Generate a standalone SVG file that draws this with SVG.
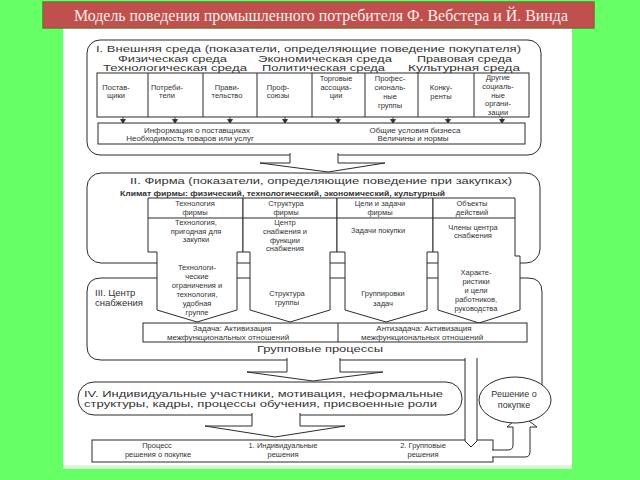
<svg xmlns="http://www.w3.org/2000/svg" width="640" height="480" viewBox="0 0 640 480">
<defs>
<style>
.ln{fill:none;stroke:#2b2b2b;stroke-width:1}
.wf{fill:#fff;stroke:#2b2b2b;stroke-width:1}
.t{font-family:"Liberation Sans",Arial,sans-serif;fill:#333}
.h{font-size:9.5px}
.s{font-size:7.5px;text-anchor:middle}
.m{font-size:8px;text-anchor:middle}
</style>
<path id="sa" d="M0,0 V3 M-2.5,2.5 H2.5 L0,6 Z" fill="#2b2b2b" stroke="#2b2b2b" stroke-width="0.8"/>
</defs>
<rect x="0" y="0" width="640" height="480" fill="#66ff66"/>
<rect x="63" y="28" width="509" height="438" fill="#fff"/>
<rect x="63" y="465" width="509" height="4" fill="#d6fbd6"/>

<g id="title">
<rect x="43" y="2" width="551" height="26" fill="#c0504d" stroke="#7d6a38" stroke-width="1.5"/>
<text x="321" y="21" font-family="'Liberation Serif','Times New Roman',serif" font-size="17" fill="#ffecec" text-anchor="middle" textLength="494" lengthAdjust="spacingAndGlyphs">Модель поведения промышленного потребителя Ф. Вебстера и Й. Винда</text>
</g>

<g id="sec1">
<rect class="wf" x="87" y="40" width="454" height="115" rx="13"/>
<text class="t h" x="96" y="51.5" textLength="425" lengthAdjust="spacingAndGlyphs">I. Внешняя среда (показатели, определяющие поведение покупателя)</text>
<text class="t h" x="118" y="61.5" textLength="109" lengthAdjust="spacingAndGlyphs">Физическая среда</text>
<text class="t h" x="258" y="61.5" textLength="134" lengthAdjust="spacingAndGlyphs">Экономическая среда</text>
<text class="t h" x="417" y="61.5" textLength="95" lengthAdjust="spacingAndGlyphs">Правовая среда</text>
<text class="t h" x="103" y="71" textLength="144" lengthAdjust="spacingAndGlyphs">Технологическая среда</text>
<text class="t h" x="262" y="71" textLength="123" lengthAdjust="spacingAndGlyphs">Политическая среда</text>
<text class="t h" x="408" y="71" textLength="112" lengthAdjust="spacingAndGlyphs">Культурная среда</text>
</g>

<g id="env-boxes">
<rect class="wf" x="97" y="73" width="432" height="44"/>
<path class="ln" d="M148,73V117M203,73V117M257,73V117M312,73V117M365,73V117M418,73V117M474,73V117"/>
<text class="t s"><tspan x="116" y="90">Постав-</tspan><tspan x="116" y="98">щики</tspan></text>
<text class="t s"><tspan x="167" y="90">Потреби-</tspan><tspan x="167" y="98">тели</tspan></text>
<text class="t s"><tspan x="227" y="90">Прави-</tspan><tspan x="227" y="98">тельство</tspan></text>
<text class="t s"><tspan x="278" y="90">Проф-</tspan><tspan x="278" y="98">союзы</tspan></text>
<text class="t s"><tspan x="336" y="81">Торговые</tspan><tspan x="336" y="90">ассоциа-</tspan><tspan x="336" y="98">ции</tspan></text>
<text class="t s"><tspan x="390" y="81">Профес-</tspan><tspan x="390" y="90">сиональ-</tspan><tspan x="390" y="99">ные</tspan><tspan x="390" y="108">группы</tspan></text>
<text class="t s"><tspan x="441" y="90">Конку-</tspan><tspan x="441" y="99">ренты</tspan></text>
<text class="t s"><tspan x="498" y="80">Другие</tspan><tspan x="498" y="89">социаль-</tspan><tspan x="498" y="98">ные</tspan><tspan x="498" y="106">органи-</tspan><tspan x="498" y="115">зации</tspan></text>
</g>

<g id="info">
<rect class="wf" x="98" y="123" width="427" height="21"/>
<text class="t m"><tspan x="197" y="132.5">Информация о поставщиках</tspan><tspan x="190" y="141">Необходимость товаров или услуг</tspan></text>
<text class="t m"><tspan x="415" y="132.5">Общие условия бизнеса</tspan><tspan x="413" y="141">Величины и нормы</tspan></text>
</g>

<g id="sec2">
<rect class="wf" x="87" y="173" width="453" height="90" rx="14"/>
<text class="t h" x="130" y="184" textLength="382" lengthAdjust="spacingAndGlyphs">II. Фирма (показатели, определяющие поведение при закупках)</text>
<text class="t" x="120" y="196" font-size="7.5" font-weight="bold" textLength="325" lengthAdjust="spacingAndGlyphs">Климат фирмы: физический, технологический, экономический, культурный</text>
</g>

<g id="sec3">
<path class="wf" d="M542,386V292Q542,278 528,278H101Q87,278 87,292V346Q87,360 101,360H465"/>
<text class="t h"><tspan x="95" y="296">III. Центр</tspan><tspan x="95" y="306">снабжения</tspan></text>
<text class="t" x="320" y="352" font-size="9.5" text-anchor="middle" textLength="126" lengthAdjust="spacingAndGlyphs">Групповые процессы</text>
</g>

<g id="col1">
<path class="wf" d="M148,198V252H157V310L197,322L237,310V252H243V198Z"/>
<text class="t s"><tspan x="195" y="206">Технология</tspan><tspan x="195" y="214.5">фирмы</tspan></text>
<text class="t s"><tspan x="196" y="225">Технология,</tspan><tspan x="196" y="233.5">пригодная для</tspan><tspan x="196" y="242">закупки</tspan></text>
<text class="t s"><tspan x="197" y="270">Технологи-</tspan><tspan x="197" y="279">ческие</tspan><tspan x="197" y="288">ограничения и</tspan><tspan x="197" y="297">технология,</tspan><tspan x="197" y="306">удобная</tspan><tspan x="197" y="315">группе</tspan></text>
</g>
<g id="col2">
<path class="wf" d="M243,198V252H250V310L290,322L330,310V252H337V198Z"/>
<text class="t s"><tspan x="286" y="206">Структура</tspan><tspan x="286" y="214.5">фирмы</tspan></text>
<text class="t s"><tspan x="285" y="225">Центр</tspan><tspan x="285" y="234">снабжения и</tspan><tspan x="285" y="243">функции</tspan><tspan x="285" y="251">снабжения</tspan></text>
<text class="t s"><tspan x="287" y="296">Структура</tspan><tspan x="287" y="305">группы</tspan></text>
</g>
<g id="col3">
<path class="wf" d="M337,198V252H345V310L386,322L427,310V252H433V198Z"/>
<text class="t s"><tspan x="380" y="206">Цели и задачи</tspan><tspan x="380" y="214.5">фирмы</tspan></text>
<text class="t s" x="378" y="233">Задачи покупки</text>
<text class="t s"><tspan x="383" y="296">Группировки</tspan><tspan x="383" y="306">задач</tspan></text>
</g>
<g id="col4">
<path class="wf" d="M433,198V252H438V310L479,323L520,310V256H515V198Z"/>
<text class="t s"><tspan x="472" y="206">Объекты</tspan><tspan x="472" y="214.5">действий</tspan></text>
<text class="t s"><tspan x="473" y="230">Члены центра</tspan><tspan x="473" y="238">снабжения</tspan></text>
<text class="t s"><tspan x="476" y="275">Характе-</tspan><tspan x="476" y="284">ристики</tspan><tspan x="476" y="293">и цели</tspan><tspan x="476" y="302">работников,</tspan><tspan x="476" y="311">руководства</tspan></text>
</g>
<path class="ln" d="M148,218H515"/>

<g id="task">
<rect class="wf" x="143" y="323" width="384" height="19"/>
<path class="ln" d="M338,323V342"/>
<text class="t m"><tspan x="232" y="331">Задача: Активизация</tspan><tspan x="228" y="340">межфункциональных отношений</tspan></text>
<text class="t m"><tspan x="424" y="331">Антизадача: Активизация</tspan><tspan x="422" y="340">межфункциональных отношений</tspan></text>
</g>

<g id="sec4">
<rect class="wf" x="78" y="382" width="384" height="33" rx="16"/>
<text class="t h" x="84" y="396.5" textLength="359" lengthAdjust="spacingAndGlyphs">IV. Индивидуальные участники, мотивация, неформальные</text>
<text class="t h" x="84" y="407" textLength="353" lengthAdjust="spacingAndGlyphs">структуры, кадры, процессы обучения, присвоенные роли</text>
</g>

<g id="result">
<rect class="wf" x="92" y="440" width="401" height="22"/>
<text class="t s"><tspan x="157" y="448">Процесс</tspan><tspan x="158" y="457">решения о покупке</tspan></text>
<text class="t s"><tspan x="283" y="448">1. Индивидуальные</tspan><tspan x="283" y="457">решения</tspan></text>
<text class="t s"><tspan x="423" y="448">2. Групповые</tspan><tspan x="423" y="457">решения</tspan></text>
</g>

<g id="connectors">
<use href="#sa" x="123" y="117"/><use href="#sa" x="175" y="117"/><use href="#sa" x="230" y="117"/><use href="#sa" x="285" y="117"/>
<use href="#sa" x="338" y="117"/><use href="#sa" x="393" y="117"/><use href="#sa" x="448" y="117"/><use href="#sa" x="502" y="117"/>
<path class="wf" d="M290,153V163H260L328,172L385,163H338V153"/>
<path class="wf" d="M287,358V372H247L313,381L383,372H340V358"/>
<path class="wf" d="M252,413V426H205L275,437L345,426H300V413"/>
<path class="wf" d="M465,358V441L471,447L477,441V358"/>
<path class="wf" d="M492,450H508Q513,450 513,445V427H507L521,415L537,427H530V452Q530,457 525,457H492"/>
</g>

<g id="decision">
<ellipse class="wf" cx="515" cy="400" rx="36" ry="23"/>
<text class="t" font-size="9" text-anchor="middle"><tspan x="514" y="397">Решение о</tspan><tspan x="514" y="408">покупке</tspan></text>
</g>
</svg>
